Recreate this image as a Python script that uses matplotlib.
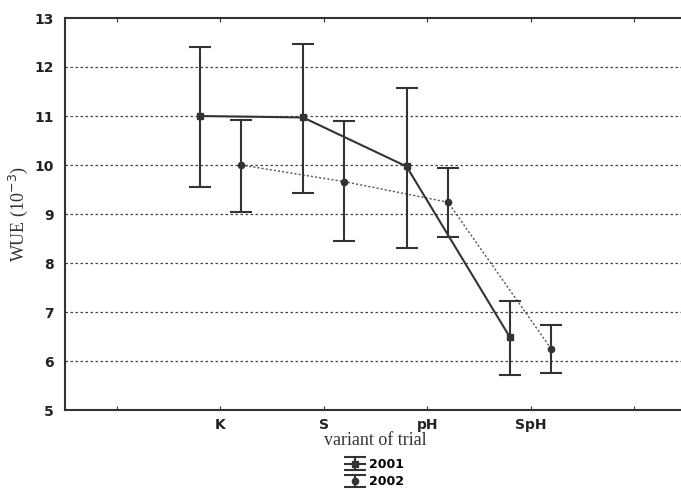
import matplotlib.pyplot as plt
import numpy as np

# data
variants = ["K", "S", "pH", "SpH"]
wue_2001 = [11.0, 10.97, 9.97, 6.48]
err_hi_2001 = [12.41, 12.47, 11.57, 7.22]
err_lo_2001 = [9.56, 9.42, 8.31, 5.71]
wue_2002 = [10.0, 9.66, 9.24, 6.24]
err_hi_2002 = [10.92, 10.90, 9.93, 6.73]
err_lo_2002 = [9.05, 8.45, 8.54, 5.76]

fig = plt.figure(figsize=(6.81, 4.90), dpi=100)
# right spine sits just outside the picture, like in the scan
ax = fig.add_axes([65 / 681, 1 - 410 / 490, (686 - 65) / 681, 392 / 490])

x = np.arange(1, len(variants) + 1)
off = 0.2
ink = "#333333"

y1 = np.array(wue_2001)
y2 = np.array(wue_2002)
e1 = [y1 - np.array(err_lo_2001), np.array(err_hi_2001) - y1]
e2 = [y2 - np.array(err_lo_2002), np.array(err_hi_2002) - y2]

h1 = ax.errorbar(x - off, y1, yerr=e1, fmt="s-", color=ink, lw=1.5,
                 ms=5, capsize=8, capthick=1.5, elinewidth=1.5, label="2001", zorder=3)
h2 = ax.errorbar(x + off, y2, yerr=e2, fmt="o", color=ink, ms=4.5,
                 capsize=8, capthick=1.5, elinewidth=1.5, label="2002", zorder=3)
ax.plot(x + off, y2, color="#555555", lw=1.0, ls=(0, (1.5, 1.5)), zorder=2)

ax.set_xlim(-0.5, 5.5)
ax.set_ylim(5, 13)
ax.set_yticks(range(5, 14))
ax.set_xticks(range(0, 6))
ax.set_xticklabels([""] + variants + [""])
for yy in range(6, 13):
    ax.axhline(yy, color="#444444", lw=0.9, ls=(0, (2, 2)), zorder=1)

for s in ["left", "bottom", "top"]:
    ax.spines[s].set_linewidth(1.5)
    ax.spines[s].set_color(ink)
ax.spines["right"].set_visible(False)
ax.tick_params(axis="x", direction="in", length=3, top=True, color=ink, pad=6)
ax.tick_params(axis="y", direction="in", length=0, pad=8)
for lab in ax.get_xticklabels() + ax.get_yticklabels():
    lab.set_fontweight("bold")
    lab.set_fontsize(10)
    lab.set_color("#222222")

ax.set_ylabel("WUE (10$^{-3}$)", family="Liberation Serif", fontsize=13, color="#333333")
ax.yaxis.set_label_coords(-0.056, 0.5)
ax.set_xlabel("variant of trial", family="Liberation Serif", fontsize=13, color="#333333", labelpad=0)

fig.legend(handles=[h1, h2], labels=["2001", "2002"], loc="upper center",
           bbox_to_anchor=(0.55, 0.078), frameon=False, ncol=1, handlelength=1.6,
           handletextpad=0.3, labelspacing=0.35, borderpad=0,
           prop={"weight": "bold", "size": 9})

fig.savefig("out.png", dpi=100)
